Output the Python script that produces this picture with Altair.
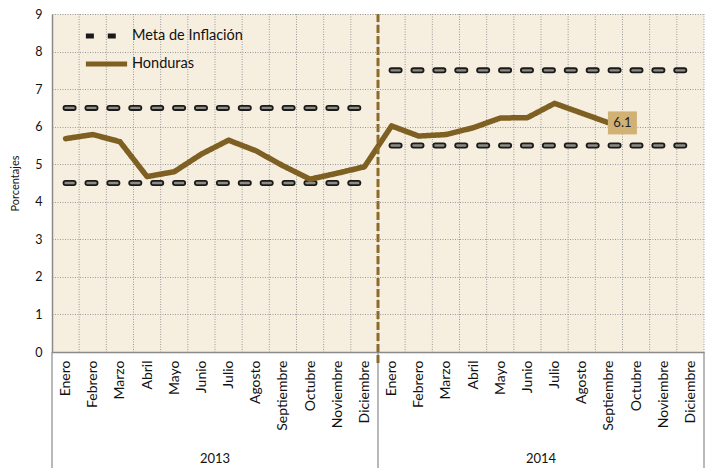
import altair as alt
import pandas as pd

months = ["Enero", "Febrero", "Marzo", "Abril", "Mayo", "Junio", "Julio",
          "Agosto", "Septiembre", "Octubre", "Noviembre", "Diciembre"]
years = ["2013", "2014"]
honduras = [5.68, 5.79, 5.60, 4.67, 4.80, 5.27, 5.64, 5.36, 4.96, 4.60, 4.76, 4.93,
            6.02, 5.75, 5.79, 5.97, 6.23, 6.24, 6.62, 6.36, 6.10]
meta_low = [4.5, 5.5]
meta_high = [6.5, 7.5]
last_label = "6.1"
series_names = ["Meta de Inflación", "Honduras"]

FONT = "Lato"
BROWN = "#7F6023"

# ---- tables ----
hond_df = pd.DataFrame({"idx": list(range(len(honduras))), "value": honduras,
                        "series": "Honduras", "seg": "H"})
meta_rows = []
for yi, yr in enumerate(years):
    for name, arr in (("low", meta_low), ("high", meta_high)):
        for m in (0, 11):
            meta_rows.append({"idx": yi * 12 + m, "value": arr[yi],
                              "series": "Meta de Inflación", "seg": f"{yr}-{name}"})
meta_df = pd.DataFrame(meta_rows)
n = len(months) * len(years)
grid_df = pd.DataFrame({"idx": [i + 0.5 for i in range(n)]})
sep_df = pd.DataFrame({"idx": [-0.5, len(months) - 0.5, n - 0.5]})
year_df = pd.DataFrame({"idx": [yi * 12 + 5.5 for yi in range(len(years))], "year": years})
last_df = pd.DataFrame({"idx": [len(honduras) - 1], "value": [honduras[-1]], "label": [last_label]})

xscale = alt.Scale(domain=[-0.5, n - 0.5], nice=False, zero=False)
yscale = alt.Scale(domain=[0, 9], nice=False)
month_arr = "[" + ",".join(f"'{m}'" for m in months) + "]"

x_axis = alt.Axis(values=list(range(n)), labelExpr=f"{month_arr}[datum.value % 12]",
                  labelAngle=-90, labelAlign="right", labelBaseline="middle",
                  labelPadding=8, ticks=False, grid=False,
                  domainColor="#8a8a8a", domainWidth=1.5, labelFont=FONT,
                  labelFontSize=14, labelColor="#111", title=None, labelOverlap=False)
y_axis = alt.Axis(values=list(range(10)), grid=True, gridColor="#9a9a9a",
                  gridDash=[1, 1.5], gridWidth=1, ticks=False, labelPadding=10,
                  domainColor="#8a8a8a", domainWidth=1.5, labelFont=FONT,
                  labelFontSize=12.5, labelColor="#111", title="Porcentajes",
                  titleFont=FONT, titleFontSize=11, titleFontWeight="normal",
                  titlePadding=14, titleColor="#111", labelOverlap=False)


def X(field="idx:Q"):
    return alt.X(field, scale=xscale, axis=x_axis)


def Y(field="value:Q"):
    return alt.Y(field, scale=yscale, axis=y_axis)


def YD(v):
    return alt.Y(datum=v, scale=yscale, axis=y_axis)


color_scale = alt.Scale(domain=series_names, range=["#1a1a1a", BROWN])
dash_scale = alt.Scale(domain=series_names, range=[[8, 13.9], [1, 0]])
legend = alt.Legend(title=None, orient="none", legendX=31, legendY=15,
                    symbolType="stroke", symbolSize=1700, symbolStrokeWidth=5,
                    labelFont=FONT, labelFontSize=14.5, labelColor="#111",
                    clipHeight=14, rowPadding=13, labelOffset=2)

vgrid = alt.Chart(grid_df).mark_rule(color="#9a9a9a", strokeDash=[1, 1.5], strokeWidth=1).encode(x=X())

meta_outer = alt.Chart(meta_df).mark_line(strokeWidth=6, strokeCap="round").encode(
    x=X(), y=Y(),
    color=alt.Color("series:N", scale=color_scale, legend=legend),
    strokeDash=alt.StrokeDash("series:N", scale=dash_scale, legend=legend),
    detail="seg:N",
)
meta_inner = alt.Chart(meta_df).mark_line(strokeWidth=2.4, strokeCap="round", color="#8d8b82",
                                          strokeDash=[8, 13.9]).encode(
    x=X(), y=Y(), detail="seg:N",
)
hond_line = alt.Chart(hond_df).mark_line(strokeWidth=5.5, strokeJoin="round", strokeCap="round").encode(
    x=X(), y=Y(),
    color=alt.Color("series:N", scale=color_scale, legend=legend),
    strokeDash=alt.StrokeDash("series:N", scale=dash_scale, legend=legend),
)

vdash = alt.Chart(pd.DataFrame({"idx": [len(months) - 0.5]})).mark_rule(
    color="#8C6A2A", strokeWidth=3, strokeDash=[8, 3]).encode(
    x=X(), y=YD(9), y2=alt.Y2(datum=-0.35))

seps = alt.Chart(sep_df).mark_rule(color="#8a8a8a", strokeWidth=1.2).encode(
    x=X(), y=YD(0), y2=alt.Y2(datum=-3.5))

year_text = alt.Chart(year_df).mark_text(font=FONT, fontSize=13, color="#111").encode(
    x=X(), y=YD(-2.85), text="year:N")

box = alt.Chart(last_df).mark_rect(width=29, height=23, xOffset=13.5, color="#D2B175").encode(
    x=X(), y=Y())
box_text = alt.Chart(last_df).mark_text(font=FONT, fontSize=13, color="#222", dx=13.5).encode(
    x=X(), y=Y(), text="label:N")

chart = alt.layer(vgrid, seps, meta_outer, meta_inner, hond_line, vdash,
                  year_text, box, box_text).properties(
    width=652, height=338,
    autosize=alt.AutoSizeParams(type="none"),
    padding={"left": 44, "top": 6, "right": 1, "bottom": 116},
).configure_view(fill="#F6EFDF", stroke=None)

chart.save("out.html", embed_options={"renderer": "svg", "actions": False})
